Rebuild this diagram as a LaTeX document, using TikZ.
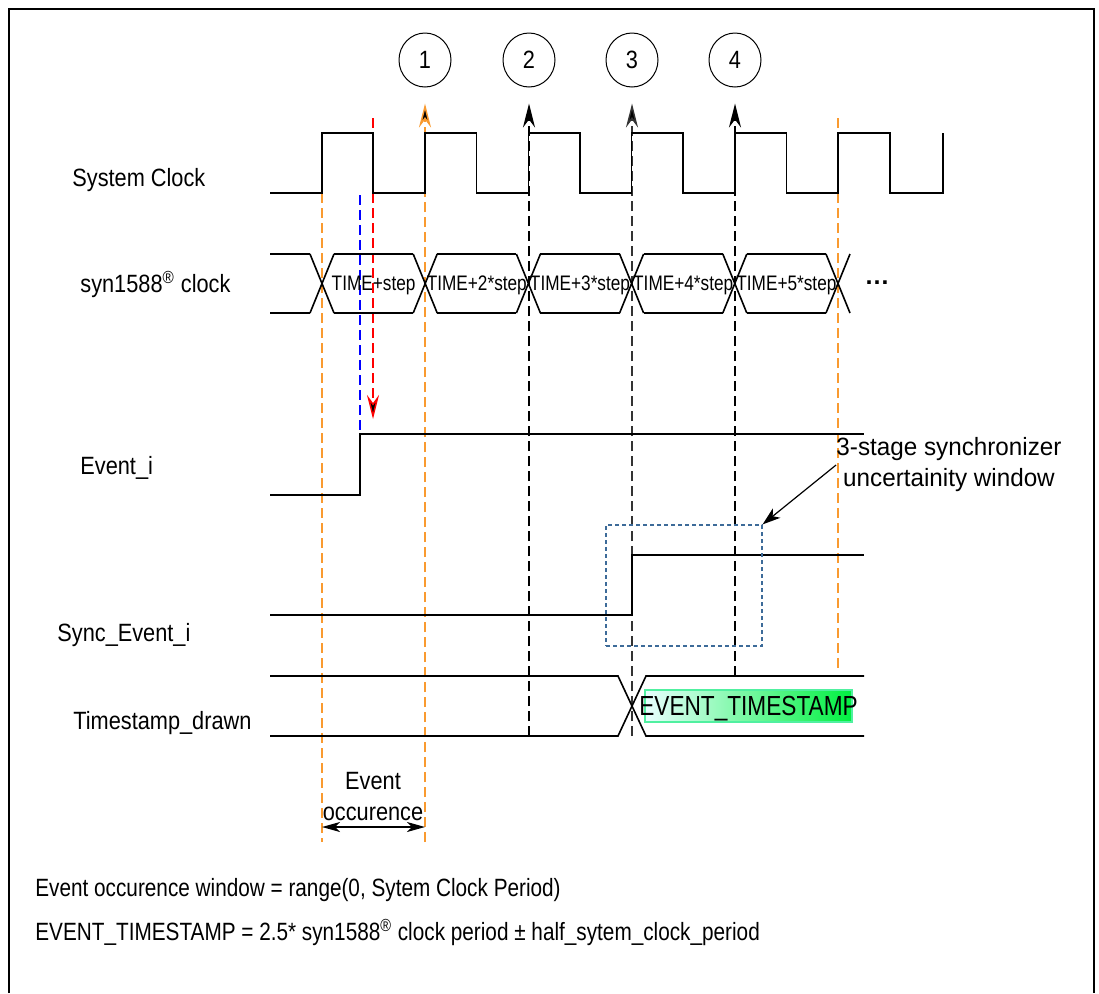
\documentclass[tikz,border=0pt]{standalone}
\usepackage{fontspec}
\setmainfont{Liberation Sans}
\newfontfamily\lblfont[FakeStretch=0.87]{Liberation Sans}
\newfontfamily\stepfont[FakeStretch=0.82]{Liberation Sans}
\newfontfamily\notefont[FakeStretch=0.83]{Liberation Sans}
\newfontfamily\wordfont[FakeStretch=0.97]{Liberation Sans}
\usetikzlibrary{arrows.meta, shapes.geometric, positioning}
\definecolor{ink}{HTML}{000000}
\definecolor{inkd}{HTML}{333333}
\definecolor{evorange}{HTML}{F99A30}
\definecolor{winblue}{HTML}{3D6B99}
\definecolor{tsgreen}{HTML}{00F040}
\definecolor{tspale}{HTML}{E8FFFF}
\definecolor{tsedge}{HTML}{50F0A0}
\tikzset{
  wave/.style={ink, line width=0.8pt, line join=miter},
  guide/.style={dash pattern=on 5pt off 2.5pt, line width=0.75pt},
  uptip/.style={-{Stealth[length=12pt, width=6pt, inset=4pt, fill=black]}},
  lbl/.style={anchor=base west, inner sep=0pt, font=\lblfont\fontsize{12.5}{15}\selectfont},
  steplbl/.style={anchor=base, inner sep=0pt, font=\stepfont\fontsize{10.5}{12}\selectfont},
  notelbl/.style={anchor=base west, inner sep=0pt, font=\notefont\fontsize{12.5}{15}\selectfont},
  edgemark/.style={ellipse, draw, line width=0.5pt, minimum width=26pt, minimum height=27pt, inner sep=0pt, font=\lblfont\fontsize{12.5}{15}\selectfont},
  winbox/.style={draw=winblue, dash pattern=on 2pt off 1.5pt, line width=0.6pt, inner sep=0pt}
}
\begin{document}
\begin{tikzpicture}[x=0.5pt, y=-0.5pt]
  \useasboundingbox (0,0) rectangle (1099,993);
  \draw[line width=1pt] (9,993) -- (9,9) -- (1094,9) -- (1094,993);

  % signal names
  \node[lbl] (sysclk) at (72,186) {System Clock};
  \node[lbl] (synclk) at (80,292) {syn1588\textsuperscript{\textregistered} clock};
  \node[lbl] (evi) at (80,474) {Event\_i};
  \node[lbl] (syncevi) at (57,641) {Sync\_Event\_i};
  \node[lbl] (tsd) at (73,729) {Timestamp\_drawn};

  % numbered edges
  \foreach \n/\x in {1/425,2/529,3/632,4/735}
    \node[edgemark] (c\n) at (\x,60) {\n};

  % guide lines
  \coordinate (o0) at (322,842);
  \coordinate (o1) at (425,842);
  \coordinate (g2) at (529,736);
  \coordinate (g3) at (632,736);
  \coordinate (g4) at (735,676);
  \draw[guide, evorange] (322,193) -- (o0);
  \draw[guide, evorange] (838,118) -- (838,672);
  \draw[guide, evorange, uptip, shorten >=8pt] (o1) -- (c1);
  \draw[guide, ink, uptip, shorten >=8pt] (g2) -- (c2);
  \draw[guide, inkd, uptip, shorten >=8pt] (g3) -- (c3);
  \draw[guide, ink, uptip, shorten >=8pt] (g4) -- (c4);
  \coordinate (rtop) at (373,118);
  \coordinate (rbot) at (373,419);
  \draw[guide, red, uptip] (rtop) -- (rbot);
  \draw[guide, blue] (360,195) -- (360,433);

  % system clock
  \draw[wave] (270,193) \foreach \k in {0,...,5}{
      -- ({322+103.2*\k},193) -- ({322+103.2*\k},133)
      -- ({373+103.4*\k},133) -- ({373+103.4*\k},193)} -- (943,193) -- (943,133);

  % syn1588 clock
  \draw[wave] (270,254) -- (310,254) (270,313) -- (310,313);
  \foreach \k in {0,...,5}
    \draw[wave] ({310+103.2*\k},254) -- ({334+103.2*\k},313)
                ({310+103.2*\k},313) -- ({334+103.2*\k},254);
  \foreach \k in {0,...,4}
    \draw[wave] ({334+103.2*\k},254) -- ({413.2+103.2*\k},254)
                ({334+103.2*\k},313) -- ({413.2+103.2*\k},313);
  \foreach \k/\t in {0/TIME+step,1/TIME+2*step,2/TIME+3*step,3/TIME+4*step,4/TIME+5*step}
    \node[steplbl] (t\k) at ({373.6+103.2*\k},290) {\t};
  \node[anchor=base, inner sep=0pt, font=\bfseries\fontsize{12.5}{15}\selectfont] (more) at (877,284) {…};

  % event input and synchronized event
  \draw[wave] (270,495) -- (360,495) -- (360,434) -- (864,434);
  \draw[wave] (270,615) -- (632,615) -- (632,555) -- (864,555);

  % timestamp bus
  \draw[wave] (270,676) -- (618,676) -- (646,736) -- (864,736);
  \draw[wave] (270,736) -- (618,736) -- (646,676) -- (864,676);
  \shade[left color=tspale, right color=tsgreen, draw=tsedge, line width=0.6pt] (645,690) rectangle (852,722);
  \node[anchor=base, inner sep=0pt, font=\stepfont\fontsize{13.8}{15}\selectfont] (tsval) at (748.5,715) {EVENT\_TIMESTAMP};

  % uncertainty window
  \node[winbox, minimum width=78pt, minimum height=60.5pt] (win) at (684,585.5) {};
  \node[align=center, inner sep=0pt, font=\wordfont\fontsize{12.5}{15.5}\selectfont] (note) at (949,465) {3-stage synchronizer\\uncertainity window};
  \draw[line width=0.6pt, -{Stealth[length=9pt, width=6pt, inset=2.5pt]}] (note.west) -- (win.north east);

  % event occurence window
  \node[anchor=base, inner sep=0pt, font=\lblfont\fontsize{12.5}{15}\selectfont] (ev) at (373,789) {Event};
  \node[anchor=base, inner sep=0pt, font=\lblfont\fontsize{12.5}{15}\selectfont] (occ) at (373,820) {occurence};
  \coordinate (w0) at (322,827);
  \coordinate (w1) at (425,827);
  \draw[line width=0.7pt, {Stealth[length=9pt, width=5pt, inset=2.5pt]}-{Stealth[length=9pt, width=5pt, inset=2.5pt]}] (w0) -- (w1);

  % notes
  \node[notelbl] (n1) at (35,896) {Event occurence window = range(0, Sytem Clock Period)};
  \node[notelbl] (n2) at (35,940) {EVENT\_TIMESTAMP = 2.5* syn1588\textsuperscript{\textregistered} clock period ± half\_sytem\_clock\_period};
\end{tikzpicture}
\end{document}
